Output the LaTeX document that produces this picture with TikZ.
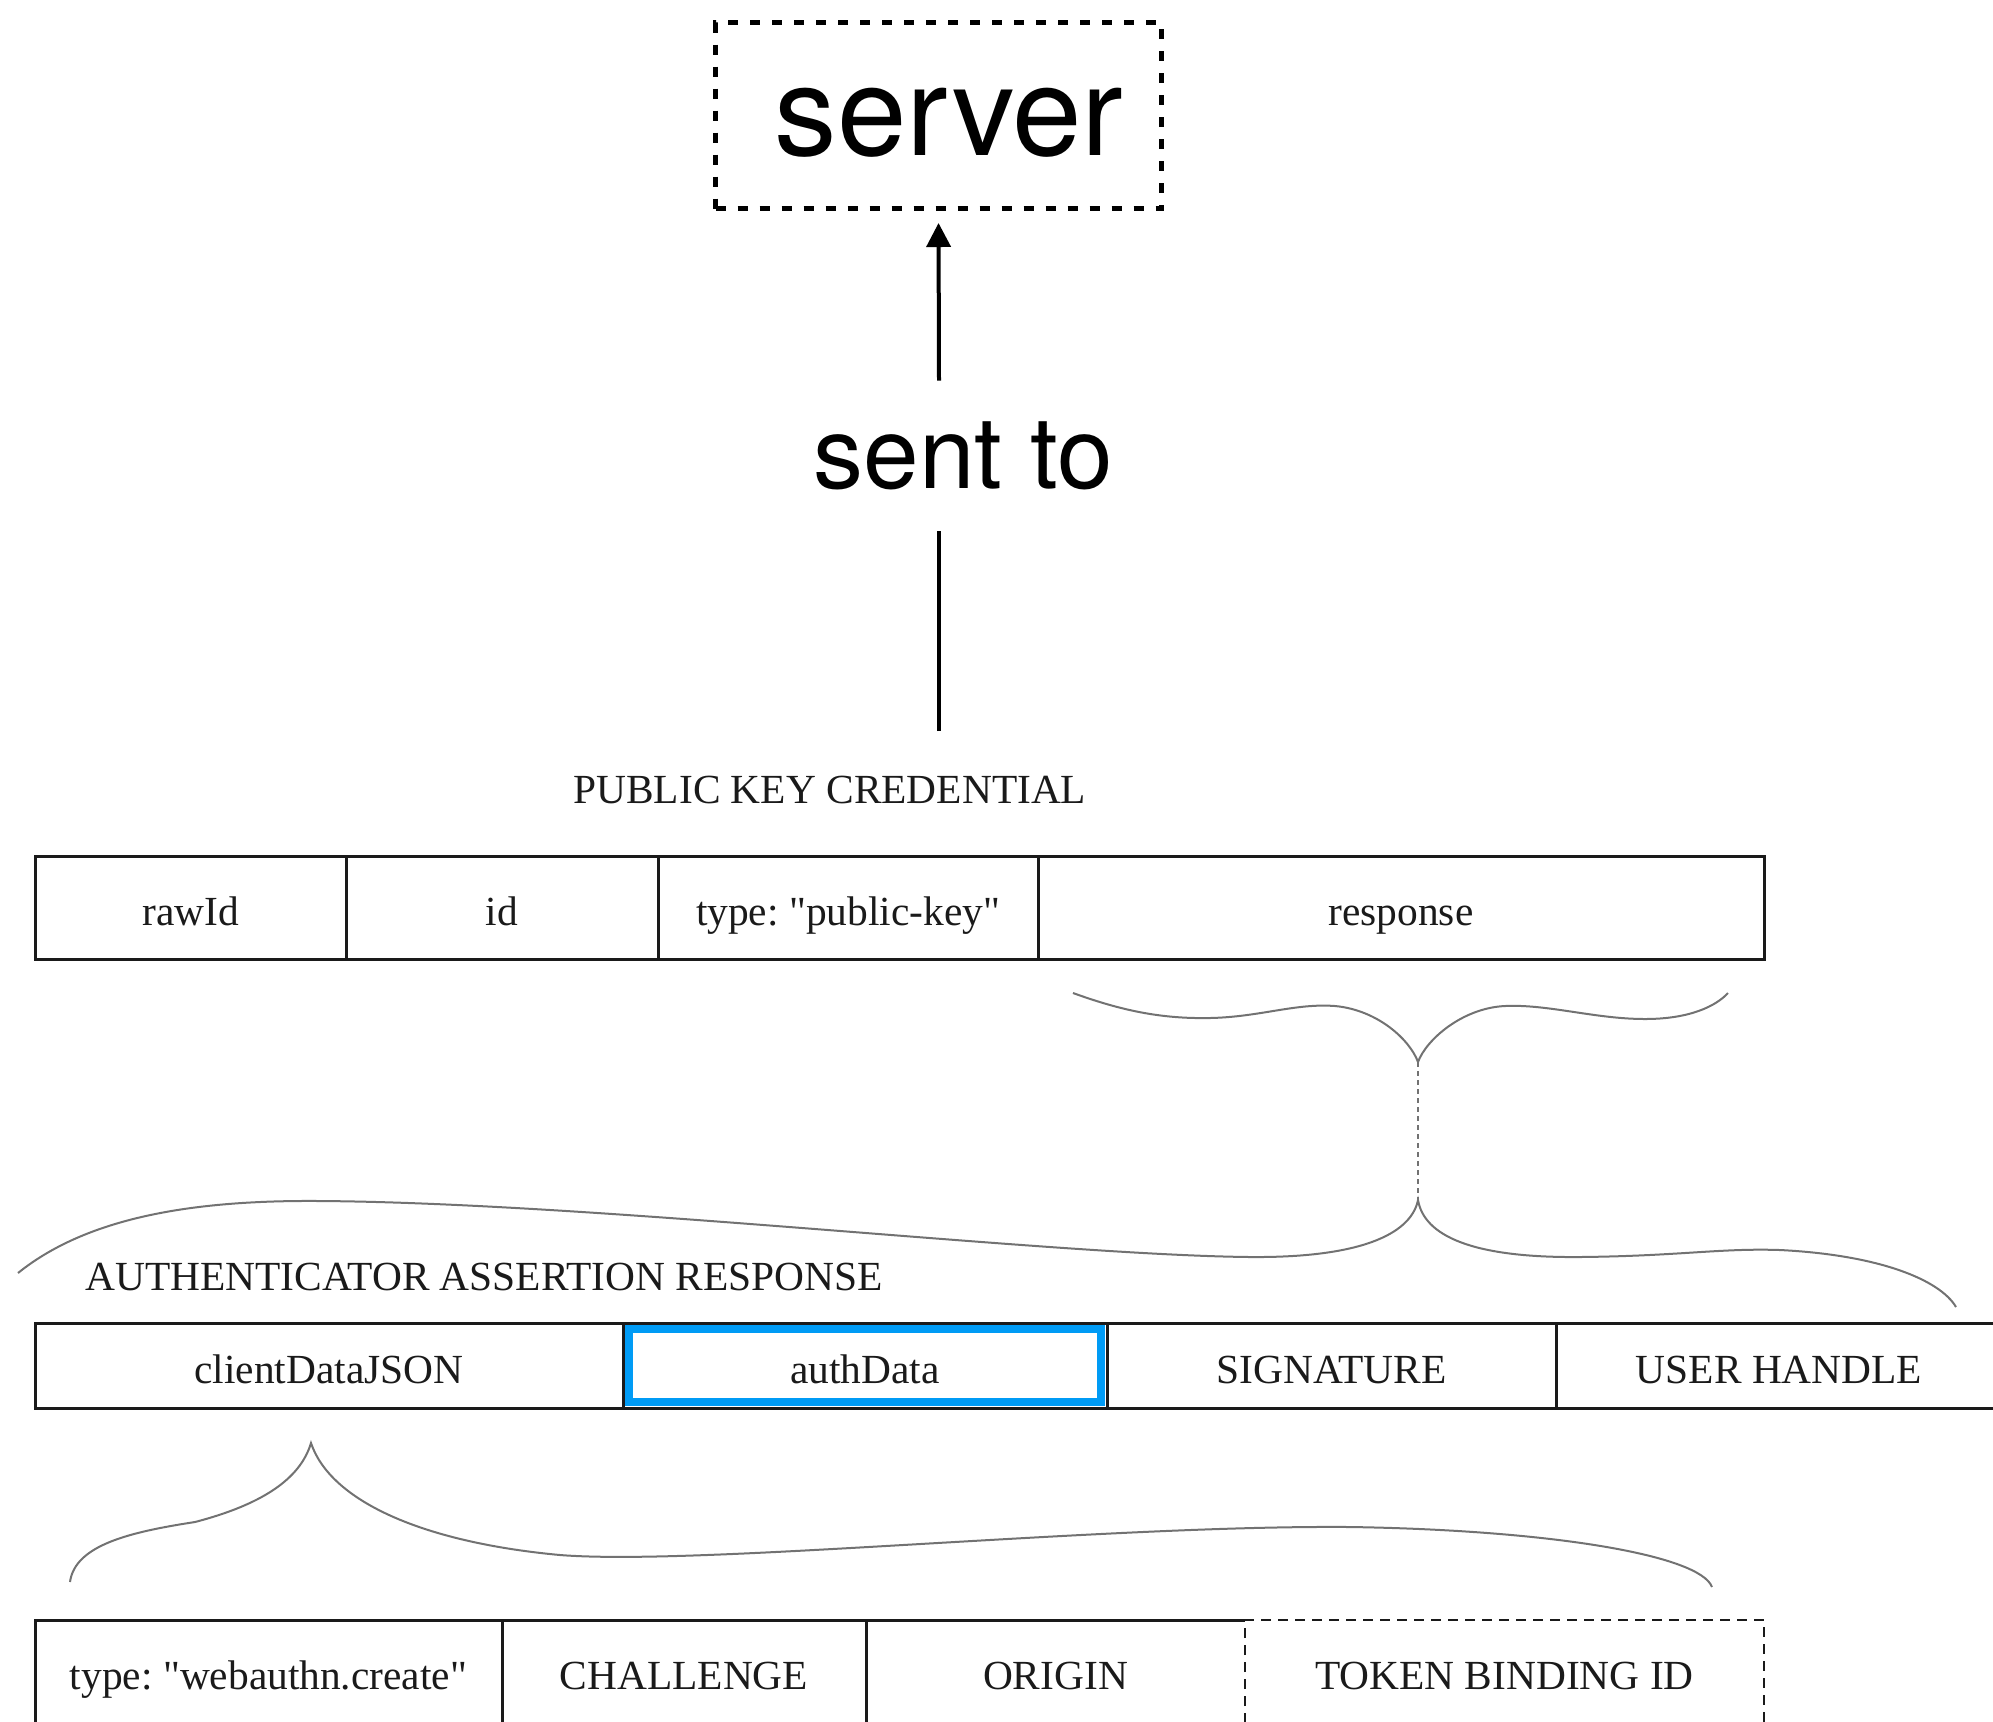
\documentclass[tikz,border=0pt]{standalone}
\usepackage{fontspec}
\setmainfont{Liberation Serif}
\newfontfamily\cellserif{Liberation Serif}
\newfontfamily\labelsans{TeX Gyre Heros}
\usetikzlibrary{arrows.meta}

\definecolor{inkc}{HTML}{1A1A1A}
\definecolor{bracec}{HTML}{727272}
\definecolor{focusblue}{RGB}{0,155,245}

\begin{document}
\frenchspacing
\begin{tikzpicture}[x=0.5pt,y=-0.5pt,
  cell/.style={draw=inkc, line width=1.5pt, inner sep=0pt, outer sep=0pt,
    minimum height=51.5pt, text height=18pt, text depth=0pt,
    font=\cellserif\fontsize{20.7pt}{24pt}\selectfont, text=inkc},
  bare/.style={cell, draw=none},
  heading/.style={inner sep=0pt, anchor=base west,
    font=\cellserif\fontsize{20.7pt}{24pt}\selectfont, text=inkc},
  tableline/.style={draw=inkc, line width=1.5pt},
  dashline/.style={draw=inkc, line width=1.25pt, dash pattern=on 5pt off 3.5pt},
  bracepath/.style={draw=bracec, line width=1pt},
  linkdash/.style={draw=bracec, line width=0.75pt, dash pattern=on 2.5pt off 2pt},
  shaft/.style={draw=black, line width=2pt},
  sendarrow/.style={shaft, -{Triangle[width=12pt,length=12pt]}},
  serverbox/.style={draw=black, line width=2.5pt, dash pattern=on 5pt off 6pt,
    minimum width=223pt, minimum height=93pt, inner sep=0pt},
  bigsans/.style={inner sep=0pt, text=black},
]
\useasboundingbox (0,0) rectangle (1993,1721);

% server box and its label
\node[serverbox] (server) at (938.5,115.5) {};
\node[bigsans, anchor=base, font=\labelsans\fontsize{62.5pt}{70pt}\selectfont]
  (servertext) at (949,155) {server};

% "sent to" link from the credential up to the server
\coordinate (pkcout) at (939,731);
\node[bigsans, minimum height=75pt, font=\labelsans\fontsize{50pt}{56pt}\selectfont]
  (sent) at (963,456) {sent to};
\draw[shaft] (pkcout) -- (pkcout |- sent.south);
\draw[sendarrow, shorten >=6pt] (pkcout |- sent.north) -- (server.south);

% PUBLIC KEY CREDENTIAL
\node[heading] (pkctitle) at (573,803) {PUBLIC KEY CREDENTIAL};
\node[cell, minimum width=155.5pt] (rawid) at (190.5,907.5) {rawId};
\node[cell, minimum width=156pt] (idc) at (502,907.5) {id};
\node[cell, minimum width=190pt] (ptype) at (848,907.5) {type: "public-key"};
\node[cell, minimum width=363pt] (resp) at (1401,907.5) {response};

% brace under "response"
\coordinate (tip1) at (1418,1062);
\coordinate (tip2) at (1418,1200);
\draw[bracepath] (1073,993) .. controls (1120,1010) and (1160,1019) .. (1210,1018)
  .. controls (1260,1017) and (1295,1003) .. (1335,1006)
  .. controls (1378,1010) and (1410,1040) .. (tip1)
  .. controls (1426,1040) and (1462,1008) .. (1505,1006)
  .. controls (1548,1004) and (1595,1019) .. (1645,1019)
  .. controls (1690,1019) and (1716,1006) .. (1728,993);
\draw[linkdash] (tip1) -- (tip2);

% brace over the assertion response
\draw[bracepath] (18,1273) .. controls (90,1215) and (200,1200) .. (320,1201)
  .. controls (600,1203) and (1050,1255) .. (1250,1257)
  .. controls (1370,1258) and (1412,1230) .. (tip2)
  .. controls (1424,1235) and (1470,1258) .. (1580,1257)
  .. controls (1680,1256) and (1720,1248) .. (1780,1250)
  .. controls (1880,1255) and (1940,1280) .. (1956,1307);

% AUTHENTICATOR ASSERTION RESPONSE
\node[heading] (aartitle) at (85,1290) {AUTHENTICATOR ASSERTION RESPONSE};
\node[cell, minimum height=42.5pt, minimum width=294pt] (cdj) at (329,1365.5) {clientDataJSON};
\node[cell, minimum height=42.5pt, minimum width=242pt] (authd) at (865,1365.5) {authData};
\node[cell, minimum height=42.5pt, minimum width=224.5pt] (sig) at (1331.5,1365.5) {SIGNATURE};
\node[cell, minimum height=42.5pt, minimum width=223pt] (uh) at (1779,1365.5) {USER HANDLE};
\draw[focusblue, line width=4pt]
  ([shift={(6,6)}]authd.north west) rectangle ([shift={(-6,-6)}]authd.south east);

% brace under clientDataJSON
\coordinate (tip3) at (311,1443);
\draw[bracepath] (70,1582) .. controls (75,1545) and (130,1532) .. (195,1522)
  .. controls (260,1505) and (300,1480) .. (tip3)
  .. controls (330,1500) and (420,1542) .. (560,1555)
  .. controls (700,1566) and (1100,1525) .. (1350,1527)
  .. controls (1550,1530) and (1700,1555) .. (1712,1587);

% client data fields
\node[bare, minimum width=233.5pt] (ctype) at (268.5,1671.5) {type: "webauthn.create"};
\node[bare, minimum width=182pt] (chal) at (684,1671.5) {CHALLENGE};
\node[bare, minimum width=189.5pt] (orig) at (1055.5,1671.5) {ORIGIN};
\node[bare, minimum width=259.5pt] (tbid) at (1504.5,1671.5) {TOKEN BINDING ID};
\draw[tableline] (orig.north east) -- (ctype.north west) -- (ctype.south west)
  -- (orig.south east);
\draw[tableline] (ctype.north east) -- (ctype.south east);
\draw[tableline] (chal.north east) -- (chal.south east);
\draw[dashline] (tbid.south west) -- (tbid.north west) -- (tbid.north east)
  -- (tbid.south east);
\end{tikzpicture}
\end{document}
